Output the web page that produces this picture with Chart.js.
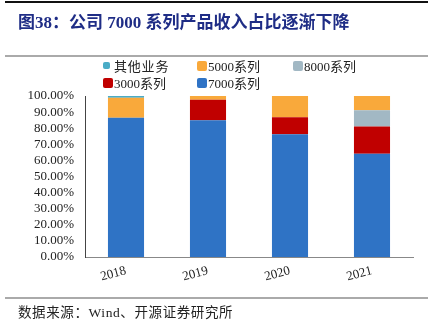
<!DOCTYPE html>
<html>
<head>
<meta charset="utf-8">
<script src="https://cdn.jsdelivr.net/npm/chart.js@4/dist/chart.umd.min.js"></script>
<style>
  body { margin: 0; width: 433px; height: 323px; background: #fff; position: relative; overflow: hidden;
         font-family: "Liberation Serif", "Noto Sans CJK SC", serif; }
  #wrap { position: absolute; left: 0; top: 0; width: 433px; height: 323px; }
  #title { position: absolute; left: 18px; top: 8px; font-size: 17px; font-weight: bold; color: #1f2d86;
           white-space: nowrap; z-index: 2; }
  #source { position: absolute; left: 18px; top: 301px; font-size: 13.5px; color: #222; letter-spacing: 0.6px;
            white-space: nowrap; z-index: 2; }
  #legend { position: absolute; left: 103px; top: 56px; font-size: 13px; color: #222; z-index: 2; }
  .item { position: absolute; white-space: nowrap; display: flex; align-items: center; }
  .sw { display: inline-block; width: 10px; height: 10px; border-radius: 2px; margin-right: 1px; }
</style>
</head>
<body>
<div id="wrap"><canvas id="chart"></canvas></div>
<div id="title">图38：公司 7000 系列产品收入占比逐渐下降</div>
<div id="legend"></div>
<div id="source">数据来源：Wind、开源证券研究所</div>

<script>
// data (share of revenue, %)
const years = ["2018", "2019", "2020", "2021"];
const s7000 = [86.5, 85.0, 76.2, 64.2];
const s3000 = [0, 12.6, 10.6, 16.8];
const s8000 = [0, 0, 0, 10.1];
const s5000 = [12.4, 2.4, 13.2, 8.9];
const sOther = [1.1, 0, 0, 0];
const yTicks = [0, 10, 20, 30, 40, 50, 60, 70, 80, 90, 100];

const series = [
  { label: "7000系列", data: s7000, color: "#2f73c5" },
  { label: "3000系列", data: s3000, color: "#c00000" },
  { label: "8000系列", data: s8000, color: "#a2b8c4" },
  { label: "5000系列", data: s5000, color: "#f9a93b" },
  { label: "其他业务", data: sOther, color: "#4aacc6" }
];

// legend, laid out like the report: other / 5000 / 8000 on top, 3000 / 7000 below
const legendSpots = {
  "其他业务": [0, 0], "5000系列": [94, 0], "8000系列": [190, 0],
  "3000系列": [0, 17], "7000系列": [94, 17]
};
const legend = document.getElementById("legend");
series.slice().reverse().forEach(s => {
  const el = document.createElement("div");
  el.className = "item";
  el.style.left = legendSpots[s.label][0] + "px";
  el.style.top = legendSpots[s.label][1] + "px";
  const small = s.label === "其他业务";
  el.innerHTML = '<span class="sw" style="background:' + s.color + ';' +
    (small ? 'width:7px;height:7px;margin-right:4px;' : '') + '"></span>' +
    '<span' + (small ? ' style="letter-spacing:0.8px"' : '') + '>' + s.label + '</span>';
  legend.appendChild(el);
});

// page rules of the report layout (top, under title, above source)
const pageRules = {
  id: "pageRules",
  beforeDraw(chart) {
    const ctx = chart.ctx;
    ctx.save();
    ctx.fillStyle = "#111";
    ctx.fillRect(5, 1, 423, 2);
    ctx.fillStyle = "#aaa";
    ctx.fillRect(5, 55, 423, 2);
    ctx.fillRect(5, 297, 423, 2);
    ctx.restore();
  }
};

new Chart(document.getElementById("chart"), {
  type: "bar",
  data: {
    labels: years,
    datasets: series.map(s => ({
      label: s.label,
      data: s.data,
      backgroundColor: s.color,
      categoryPercentage: 1,
      barPercentage: 0.44
    }))
  },
  plugins: [pageRules],
  options: {
    responsive: true,
    maintainAspectRatio: false,
    animation: false,
    layout: { padding: { top: 96, right: 20, left: 0, bottom: 28 } },
    plugins: { legend: { display: false }, tooltip: { enabled: false } },
    scales: {
      x: {
        stacked: true,
        grid: { display: false, drawTicks: false },
        border: { color: "#888", width: 1 },
        ticks: { color: "#222", font: { family: "Liberation Serif", size: 13 }, minRotation: 15, maxRotation: 15, padding: 6 },
        afterFit: s => { s.height = 38; }
      },
      y: {
        stacked: true,
        min: 0,
        max: 100,
        afterBuildTicks: s => { s.ticks = yTicks.map(v => ({ value: v })); },
        grid: { display: false, drawTicks: false },
        border: { color: "#444", width: 1 },
        ticks: {
          autoSkip: false,
          color: "#222",
          padding: 11,
          font: { family: "Liberation Serif", size: 13 },
          callback: v => v.toFixed(2) + "%"
        },
        afterFit: s => { s.width = 85; }
      }
    }
  }
});
</script>
</body>
</html>
